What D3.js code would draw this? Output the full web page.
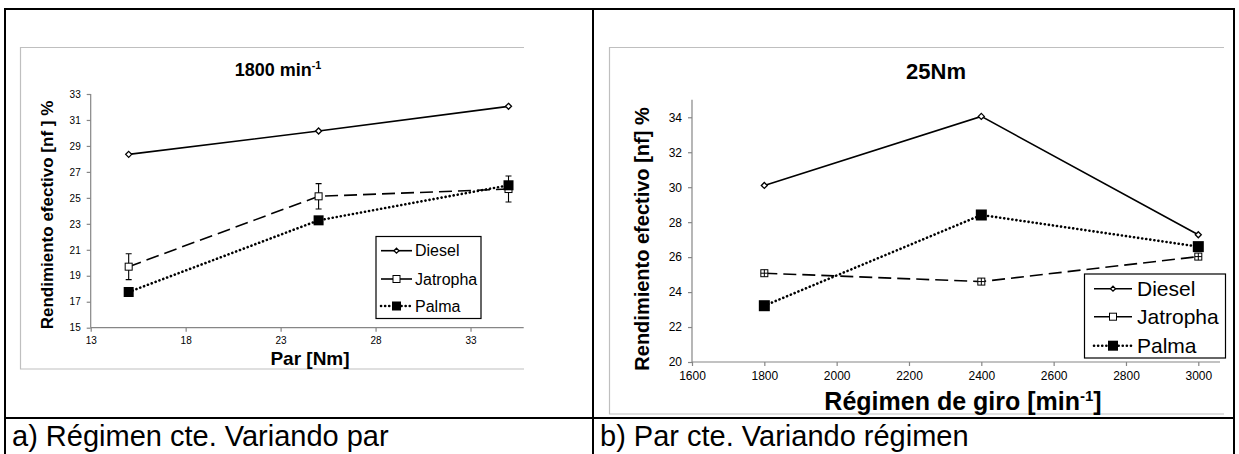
<!DOCTYPE html>
<html><head><meta charset="utf-8">
<script src="https://cdn.jsdelivr.net/npm/d3@7"></script>
<style>body{margin:0;background:#fff}svg{display:block}</style>
</head><body>
<svg id="c" width="1239" height="454"></svg>
<script>
// ---- data ----
const leftTorque = [15, 25, 35];
const leftDiesel = [28.35, 30.15, 32.05];
const leftJatropha = [19.7, 25.12, 25.68];
const leftJatrophaErr = [1.0, 0.98, 1.0];
const leftPalma = [17.75, 23.27, 25.97];
const leftXTicks = [13, 18, 23, 28, 33];
const leftYTicks = [15, 17, 19, 21, 23, 25, 27, 29, 31, 33];

const rightSpeed = [1800, 2400, 3000];
const rightDiesel = [30.1, 34.05, 27.28];
const rightJatropha = [25.08, 24.6, 26.03];
const rightPalma = [23.22, 28.41, 26.6];
const rightXTicks = [1600, 1800, 2000, 2200, 2400, 2600, 2800, 3000];
const rightYTicks = [20, 22, 24, 26, 28, 30, 32, 34];

const seriesNames = ["Diesel", "Jatropha", "Palma"];
const captions = ["a) Régimen cte. Variando par", "b) Par cte. Variando régimen"];

const svg = d3.select("#c");
const F = "'Liberation Sans', Arial, sans-serif";

// ---- outer table frame ----
const frame = svg.append("g").attr("stroke", "#000").attr("stroke-width", 2);
frame.append("line").attr("x1", 4).attr("x2", 1235).attr("y1", 9).attr("y2", 9);
frame.append("line").attr("x1", 5).attr("x2", 5).attr("y1", 8).attr("y2", 454);
frame.append("line").attr("x1", 1234).attr("x2", 1234).attr("y1", 8).attr("y2", 454);
frame.append("line").attr("x1", 593).attr("x2", 593).attr("y1", 8).attr("y2", 454);
frame.append("line").attr("x1", 4).attr("x2", 1235).attr("y1", 418).attr("y2", 418);

svg.append("text").attr("x", 12).attr("y", 446).attr("font-family", F).attr("font-size", 29).text(captions[0]);
svg.append("text").attr("x", 600).attr("y", 446).attr("font-family", F).attr("font-size", 29).text(captions[1]);

function markers(g, type, pts, size) {
  pts.forEach(([x, y]) => {
    if (type === "diamond") {
      const s = size;
      g.append("path").attr("d", `M${x},${y - s}L${x + s},${y}L${x},${y + s}L${x - s},${y}Z`)
        .attr("fill", "#fff").attr("stroke", "#000").attr("stroke-width", 1.3);
    } else if (type === "open") {
      g.append("rect").attr("x", x - size).attr("y", y - size).attr("width", 2 * size).attr("height", 2 * size)
        .attr("fill", "#fff").attr("stroke", "#000").attr("stroke-width", 1);
    } else if (type === "openplus") {
      g.append("rect").attr("x", x - size).attr("y", y - size).attr("width", 2 * size).attr("height", 2 * size)
        .attr("fill", "#fff").attr("stroke", "#000").attr("stroke-width", 1);
      g.append("path").attr("d", `M${x - size},${y}H${x + size}M${x},${y - size}V${y + size}`)
        .attr("stroke", "#000").attr("stroke-width", 1);
    } else {
      g.append("rect").attr("x", x - size).attr("y", y - size).attr("width", 2 * size).attr("height", 2 * size)
        .attr("fill", "#000");
    }
  });
}

const styles = [
  { dash: null, w: 1.6, cap: "butt" },
  { dash: "13,6", w: 1.6, cap: "butt" },
  { dash: "0.1,4", w: 2.6, cap: "round" }
];

function chart(o) {
  const g = svg.append("g");
  // chart area box (grey, open on the right)
  g.append("path").attr("d", `M${o.box[2]},${o.box[1]}H${o.box[0]}V${o.box[3]}H${o.box[2]}`)
    .attr("fill", "none").attr("stroke", "#bfbfbf").attr("stroke-width", 1.2);

  const x = d3.scaleLinear().domain(o.xDom).range(o.xRange);
  const y = d3.scaleLinear().domain(o.yDom).range(o.yRange);

  const xa = g.append("g").attr("transform", `translate(0,${o.yRange[0]})`)
    .call(d3.axisBottom(x).tickValues(o.xTicks).tickSize(4).tickSizeOuter(0).tickPadding(5).tickFormat(d3.format("d")));
  const ya = g.append("g").attr("transform", `translate(${o.xRange[0]},0)`)
    .call(d3.axisLeft(y).tickValues(o.yTicks).tickSize(4).tickSizeOuter(0).tickPadding(6).tickFormat(d3.format("d")));
  [xa, ya].forEach(a => {
    a.select(".domain").attr("stroke", "#868686").attr("stroke-width", 1.2);
    a.selectAll(".tick line").attr("stroke", "#868686").attr("stroke-width", 1.2);
    a.selectAll(".tick text").attr("font-family", F).attr("font-size", o.tickFs).attr("fill", "#000");
  });
  ya.select(".domain").attr("d", `M0,${o.yRange[0]}V${o.yTop}`);
  xa.select(".domain").attr("d", `M${o.xRange[0]},0H${o.xRange[1]}`);

  // title
  const t = g.append("text").attr("x", o.title.x).attr("y", o.title.y).attr("text-anchor", "middle")
    .attr("font-family", F).attr("font-weight", "bold").attr("font-size", o.title.fs);
  t.append("tspan").text(o.title.text);
  if (o.title.sup) t.append("tspan").attr("font-size", o.title.fs * 0.6).attr("dy", -7).text(o.title.sup);

  // axis labels
  const xl = g.append("text").attr("x", o.xLabel.x).attr("y", o.xLabel.y).attr("text-anchor", "middle")
    .attr("font-family", F).attr("font-weight", "bold").attr("font-size", o.xLabel.fs);
  xl.append("tspan").text(o.xLabel.text);
  if (o.xLabel.sup) { xl.append("tspan").attr("font-size", o.xLabel.fs * 0.6).attr("dy", -9).text(o.xLabel.sup);
    xl.append("tspan").attr("dy", 9).text(o.xLabel.after); }
  g.append("text").attr("transform", `translate(${o.yLabel.x},${o.yLabel.y}) rotate(-90)`).attr("text-anchor", "middle")
    .attr("font-family", F).attr("font-weight", "bold").attr("font-size", o.yLabel.fs).text(o.yLabel.text);

  // series
  const data = [o.diesel, o.jatropha, o.palma];
  const line = d3.line().x(d => x(d[0])).y(d => y(d[1]));
  data.forEach((vals, i) => {
    const pts = o.xs.map((xv, j) => [xv, vals[j]]);
    g.append("path").datum(pts).attr("d", line).attr("fill", "none").attr("stroke", "#000")
      .attr("stroke-width", styles[i].w).attr("stroke-dasharray", styles[i].dash).attr("stroke-linecap", styles[i].cap);
  });
  // error bars
  if (o.err) {
    o.xs.forEach((xv, j) => {
      const cx = x(xv), y0 = y(o.jatropha[j] - o.err[j]), y1 = y(o.jatropha[j] + o.err[j]);
      g.append("path").attr("d", `M${cx},${y0}V${y1}M${cx - 3},${y0}H${cx + 3}M${cx - 3},${y1}H${cx + 3}`)
        .attr("stroke", "#000").attr("stroke-width", 1.1).attr("fill", "none");
    });
  }
  const mk = g.append("g");
  markers(mk, "diamond", o.xs.map((xv, j) => [x(xv), y(o.diesel[j])]), 3);
  markers(mk, o.jMarker, o.xs.map((xv, j) => [x(xv), y(o.jatropha[j])]), 3.5);
  markers(mk, "filled", o.xs.map((xv, j) => [x(xv), y(o.palma[j])]), o.palmaSize);

  // legend
  const L = o.legend;
  g.append("rect").attr("x", L.x).attr("y", L.y).attr("width", L.w).attr("height", L.h)
    .attr("fill", "#fff").attr("stroke", "#000").attr("stroke-width", 1.2);
  seriesNames.forEach((name, i) => {
    const cy = L.rows[i];
    g.append("line").attr("x1", L.lx0).attr("x2", L.lx1).attr("y1", cy).attr("y2", cy).attr("stroke", "#000")
      .attr("stroke-width", styles[i].w).attr("stroke-dasharray", i === 2 ? styles[2].dash : null)
      .attr("stroke-linecap", styles[i].cap);
    const mx = (L.lx0 + L.lx1) / 2;
    const lg = g.append("g");
    if (i === 0) markers(lg, "diamond", [[mx, cy]], 2.5);
    if (i === 1) markers(lg, "open", [[mx, cy]], 3.5);
    if (i === 2) markers(lg, "filled", [[mx, cy]], L.ps);
    g.append("text").attr("x", L.tx).attr("y", cy).attr("dy", "0.36em").attr("font-family", F)
      .attr("font-size", L.fs).text(name);
  });
}

chart({
  box: [20.5, 47.5, 524, 369],
  xDom: [13, 35.8], xRange: [90.7, 523.7], xTicks: leftXTicks,
  yDom: [15, 33], yRange: [327.7, 94], yTop: 94, yTicks: leftYTicks, tickFs: 10,
  title: { text: "1800 min", sup: "-1", x: 278, y: 76, fs: 18 },
  xLabel: { text: "Par [Nm]", x: 310, y: 365, fs: 19 },
  yLabel: { text: "Rendimiento efectivo [nf ] %", x: 53, y: 215, fs: 17 },
  xs: leftTorque, diesel: leftDiesel, jatropha: leftJatropha, palma: leftPalma, err: leftJatrophaErr,
  jMarker: "open", palmaSize: 5,
  legend: { x: 376, y: 236.5, w: 105, h: 82, rows: [250.7, 279, 306], lx0: 381, lx1: 412, tx: 415, fs: 16, ps: 4.5 }
});

chart({
  box: [609.5, 47.5, 1224, 414],
  xDom: [1600, 3060], xRange: [692, 1220], xTicks: rightXTicks,
  yDom: [20, 35], yRange: [362, 99.8], yTop: 99.8, yTicks: rightYTicks, tickFs: 12,
  title: { text: "25Nm", x: 936, y: 79, fs: 22 },
  xLabel: { text: "Régimen de giro [min", sup: "-1", after: "]", x: 963, y: 410, fs: 25 },
  yLabel: { text: "Rendimiento efectivo [nf] %", x: 649, y: 239, fs: 20 },
  xs: rightSpeed, diesel: rightDiesel, jatropha: rightJatropha, palma: rightPalma, err: null,
  jMarker: "openplus", palmaSize: 5.5,
  legend: { x: 1084.5, y: 274, w: 141, h: 84, rows: [288.7, 316.7, 345.7], lx0: 1094, lx1: 1132, tx: 1137, fs: 21, ps: 5 }
});
</script>
</body></html>
